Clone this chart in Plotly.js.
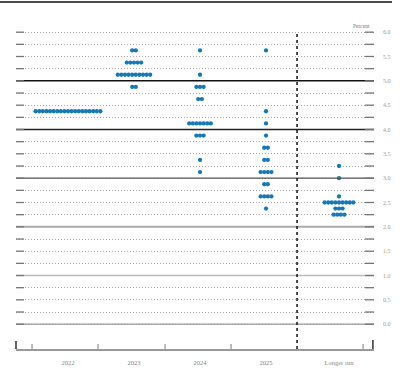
<!DOCTYPE html>
<html><head><meta charset="utf-8">
<script src="https://cdn.plot.ly/plotly-3.0.1.min.js"></script>
<style>html,body{margin:0;padding:0;background:#fff}#chart{width:400px;height:371px}</style>
</head><body><div id="chart"></div>
<script>
// Categories (x axis)
const categories = ['2022', '2023', '2024', '2025', 'Longer run'];
const categoryPos = [0, 1, 2, 3, 4.106];

// Midpoints of target ranges and number of participants at each
const levels2022 = [4.375];
const counts2022 = [19];
const levels2023 = [5.625, 5.375, 5.125, 4.875];
const counts2023 = [2, 5, 10, 2];
const levels2024 = [5.625, 5.125, 4.875, 4.625, 4.125, 3.875, 3.375, 3.125];
const counts2024 = [1, 1, 3, 2, 7, 3, 1, 1];
const levels2025 = [5.625, 4.375, 4.125, 3.875, 3.625, 3.375, 3.125, 2.875, 2.625, 2.375];
const counts2025 = [1, 1, 1, 1, 2, 2, 4, 2, 4, 1];
const levelsLR = [3.25, 3.0, 2.625, 2.5, 2.375, 2.25];
const countsLR = [1, 1, 1, 9, 3, 4];

// Y tick labels
const yTickVals = [6.0, 5.5, 5.0, 4.5, 4.0, 3.5, 3.0, 2.5, 2.0, 1.5, 1.0, 0.5, 0.0];
const yTickLabels = ['6.0', '5.5', '5.0', '4.5', '4.0', '3.5', '3.0', '2.5', '2.0', '1.5', '1.0', '0.5', '0.0'];
const orangeLabels = ['1.5', '1.0'];

const allLevels = [levels2022, levels2023, levels2024, levels2025, levelsLR];
const allCounts = [counts2022, counts2023, counts2024, counts2025, countsLR];

const dotStep = 0.0545;
const xs = [], ys = [];
allLevels.forEach((lv, ci) => {
  lv.forEach((y, k) => {
    const n = allCounts[ci][k];
    for (let j = 0; j < n; j++) {
      xs.push(categoryPos[ci] + (j - (n - 1) / 2) * dotStep);
      ys.push(y);
    }
  });
});

// gridline values every 0.25
const gridVals = [];
for (let v = 0; v <= 6.0001; v += 0.25) gridVals.push(Math.round(v * 100) / 100);
const gridText = gridVals.map(v => {
  const i = yTickVals.findIndex(t => Math.abs(t - v) < 1e-6);
  if (i < 0) return '';
  const lab = yTickLabels[i];
  const col = orangeLabels.includes(lab) ? '#c89a55' : '#999';
  return '<span style="color:' + col + '">' + lab + '</span>';
});

const shapes = [];
// top rule
shapes.push({type:'line', xref:'paper', yref:'paper', x0:-16/358, x1:376/358, y0:1 + 18/329, y1:1 + 18/329, line:{color:'#111', width:1.5}});
// solid horizontal lines
const solidLines = [[5,'#111',1.5],[4,'#222',1.3],[3,'#555',1.3],[2,'#aaa',2],[1,'#bbb',1.5],[0,'#999',1.3]];
solidLines.forEach(s => shapes.push({type:'line', xref:'paper', yref:'y', x0:0, x1:1, y0:s[0], y1:s[0], line:{color:s[1], width:s[2]}}));
// short tick segments at both ends of gridlines
gridVals.forEach(v => {
  shapes.push({type:'line', xref:'paper', yref:'y', x0:0, x1:8/358, y0:v, y1:v, line:{color:'#777', width:1.3}});
  shapes.push({type:'line', xref:'paper', yref:'y', x0:1 - 9/358, x1:1, y0:v, y1:v, line:{color:'#777', width:1.3}});
});
// vertical dashed separator
shapes.push({type:'line', xref:'x', yref:'y', x0:3.47, x1:3.47, y0:-0.51, y1:6.0, line:{color:'#111', width:1.5, dash:'dot'}});
// bottom axis ticks
[-0.545, 0.455, 1.47, 2.47, 4.47].forEach(x => shapes.push({type:'line', xref:'x', yref:'paper', x0:x, x1:x, y0:0, y1:5/329, line:{color:'#999', width:1.3}}));
shapes.push({type:'line', xref:'paper', yref:'paper', x0:0, x1:0, y0:0, y1:8/329, line:{color:'#111', width:1.3}});
shapes.push({type:'line', xref:'paper', yref:'paper', x0:0.997, x1:0.997, y0:0, y1:9/329, line:{color:'#111', width:1.3}});

const trace = {
  type:'scatter', mode:'markers', x: xs, y: ys,
  marker:{color:'#1679b5', size:4.3, line:{width:0}},
  hoverinfo:'none', showlegend:false
};

const layout = {
  width:400, height:371,
  margin:{l:16, r:26, t:20, b:22},
  paper_bgcolor:'#fff', plot_bgcolor:'#fff',
  font:{family:'Liberation Serif, serif', size:6, color:'#999'},
  xaxis:{
    range:[-0.788, 4.636], tickmode:'array', tickvals:categoryPos, ticktext:categories,
    ticks:'', showgrid:false, zeroline:false, showline:true, linecolor:'#999', linewidth:1.5,
    tickfont:{family:'Liberation Serif, serif', size:6.5, color:'#888'}, ticklabelstandoff:7
  },
  yaxis:{
    range:[-0.51, 6.25], side:'right', tickmode:'array', tickvals:gridVals, ticktext:gridText,
    ticks:'', showgrid:true, gridcolor:'#aaa', griddash:'1px,2px', gridwidth:1,
    zeroline:false, showline:false, tickfont:{family:'Liberation Serif, serif', size:6, color:'#999'},
    ticklabelstandoff:8
  },
  shapes: shapes,
  annotations:[{xref:'paper', yref:'paper', x:1 - 2/358, y:(349 - 26) / 329, xanchor:'right', yanchor:'middle', text:'Percent', showarrow:false, font:{family:'Liberation Serif, serif', size:5.5, color:'#777'}}]
};

Plotly.newPlot('chart', [trace], layout, {displayModeBar:false, staticPlot:true});
</script></body></html>
